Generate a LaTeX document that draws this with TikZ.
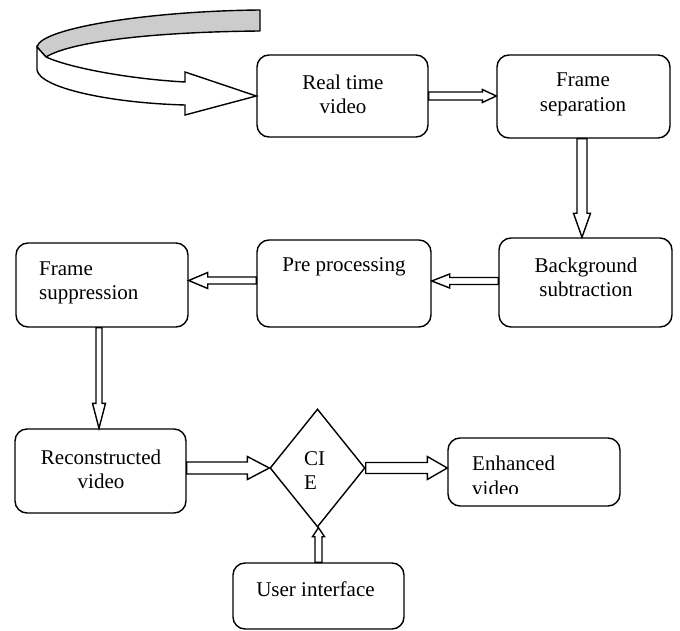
\documentclass[tikz,border=0pt]{standalone}
\usepackage{fontspec}
\setmainfont{Liberation Serif}
\usetikzlibrary{calc,shapes.geometric}
\tikzset{
  lw/.style={line width=1.4pt},
  box/.style={draw, lw, rounded corners=12pt, inner sep=0pt},
  txt/.style={font=\fontsize{21}{24.5}\selectfont, inner sep=0pt},
  blockarrow/.style={draw, lw, fill=white, line join=miter},
}
\newcommand{\blockarrow}[5]{%
  \coordinate (ba-b) at ($(#2)!#5!(#1)$);
  \draw[blockarrow] ($(#1)!#3!90:(#2)$) -- ($(ba-b)!#3!90:(#2)$) -- ($(ba-b)!#4!90:(#2)$) -- (#2)
     -- ($(ba-b)!#4!-90:(#2)$) -- ($(ba-b)!#3!-90:(#2)$) -- ($(#1)!#3!-90:(#2)$) -- cycle;
}
\begin{document}
\begin{tikzpicture}[x=1pt,y=-1pt]
\useasboundingbox (0,0) rectangle (680,631);
\fill[white] (0,0) rectangle (680,631);

% boxes
\node[box, minimum width=171pt, minimum height=82pt] (rtv)  at (342.5,96) {};
\node[box, minimum width=173pt, minimum height=83pt] (fsep) at (583.5,96.5) {};
\node[box, minimum width=173pt, minimum height=89pt] (bg)   at (585.5,282.5) {};
\node[box, minimum width=174pt, minimum height=87pt] (pp)   at (344,283.5) {};
\node[box, minimum width=172pt, minimum height=84pt] (fsup) at (102,285) {};
\node[box, minimum width=171pt, minimum height=84pt] (rec)  at (100.5,471) {};
\node[box, minimum width=172pt, minimum height=68pt] (enh)  at (534,472) {};
\node[box, minimum width=171pt, minimum height=66pt] (ui)   at (318.5,596) {};
\node[draw, lw, diamond, minimum width=95pt, minimum height=118pt, inner sep=0pt] (cie) at (317.5,468) {};

% texts
\node[txt, align=center] (t-rtv)  at (343,94.5) {Real time\\video};
\node[txt, align=center] (t-fsep) at (583,94.5) {Frame\\separation};
\node[txt, align=center] (t-bg)   at (586,277.5) {Background\\subtraction};
\node[txt] (t-pp) at (344,267) {Pre processing};
\node[txt, align=left, anchor=west] (t-fsup) at (39,283) {Frame\\suppression};
\node[txt, align=center] (t-rec) at (101,469.5) {Reconstructed\\video};
\node[txt, align=left, anchor=west] (t-cie) at (304,470.5) {CI\\E};
\begin{scope}
  \clip (440,430) rectangle (625,493);
  \node[txt, align=left, anchor=west] (t-enh) at (472,476) {Enhanced\\video};
\end{scope}
\node[txt] (t-ui) at (315.5,589) {User interface};

% block arrows
\coordinate (a1s) at (rtv.east);
\coordinate (a1e) at (rtv.east -| fsep.west);
\blockarrow{a1s}{a1e}{4pt}{6.5pt}{14pt}
\coordinate (a2s) at ($(fsep.south)+(-1.5,0)$);
\coordinate (a2e) at (a2s |- bg.north);
\blockarrow{a2s}{a2e}{5pt}{8.5pt}{24pt}
\coordinate (a3s) at ($(bg.west)+(0,-1.5)$);
\coordinate (a3e) at (a3s -| pp.east);
\blockarrow{a3s}{a3e}{3.5pt}{7pt}{18pt}
\coordinate (a4s) at ($(pp.west)+(0,-3)$);
\coordinate (a4e) at (a4s -| fsup.east);
\blockarrow{a4s}{a4e}{3.5pt}{8pt}{19pt}
\coordinate (a5s) at ($(fsup.south)+(-3,0)$);
\coordinate (a5e) at (a5s |- rec.north);
\blockarrow{a5s}{a5e}{3pt}{6.5pt}{25pt}
\coordinate (a6e) at (cie.west);
\coordinate (a6s) at (rec.east |- a6e);
\blockarrow{a6s}{a6e}{6pt}{11.5pt}{22pt}
\coordinate (a7s) at (cie.east);
\coordinate (a7e) at (a7s -| enh.west);
\blockarrow{a7s}{a7e}{5.5pt}{11.5pt}{20pt}
\coordinate (a8s) at (ui.north);
\coordinate (a8e) at (a8s |- cie.south);
\blockarrow{a8s}{a8e}{3.5pt}{6pt}{9pt}

% curved ribbon arrow into Real time video
\coordinate (ctip) at (rtv.west);
\draw[lw, fill=gray!40, line join=round] (260,10) .. controls (150,11) and (40,28) .. (37,47)
   -- (46,57) .. controls (70,42) and (150,32) .. (260,31) -- cycle;
\draw[lw, fill=white, line join=miter] (37,47) -- (46,57) .. controls (70,68) and (130,79) .. (185,82)
   -- (185,72) -- (ctip) -- (185,115) -- (185,105)
   .. controls (110,103) and (40,88) .. (37,70) -- cycle;
\end{tikzpicture}
\end{document}
